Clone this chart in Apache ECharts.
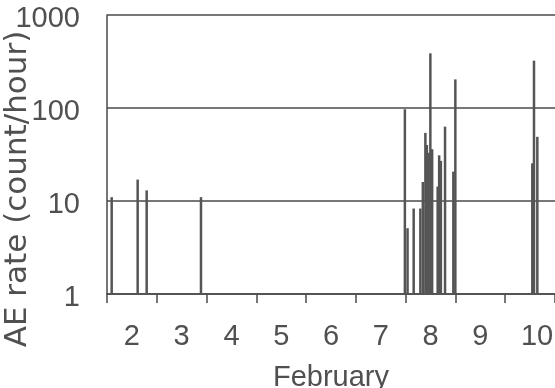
<!DOCTYPE html>
<html>
<head>
<meta charset="utf-8">
<script src="https://cdn.jsdelivr.net/npm/echarts@6/dist/echarts.min.js"></script>
<style>html,body{margin:0;padding:0;background:#fff;}#c{width:555px;height:388px;}</style>
</head>
<body>
<div id="c"></div>
<script>
// Day labels (February) shown centered within each day
var dayLabels = ['2', '3', '4', '5', '6', '7', '8', '9', '10'];
// Event times (day of February, fractional) and AE rates (count/hour)
var eventDays = [2.094, 2.616, 2.797, 3.888,
  7.984, 8.038, 8.161, 8.295, 8.345, 8.396, 8.426, 8.460, 8.496, 8.532,
  8.643, 8.673, 8.707, 8.791, 8.958, 8.998,
  10.544, 10.578, 10.645];
var aeRates = [11, 17, 13, 11,
  97, 5.1, 8.3, 8.3, 16, 54, 40, 33, 387, 36,
  14.3, 31, 27, 63, 20.7, 203,
  25.4, 323, 49];
var yTicks = [1, 10, 100, 1000];

var data = eventDays.map(function (d, i) { return [d, aeRates[i]]; });
var axisColor = '#4a4a4a';
var textColor = '#505050';
var font = 'Liberation Sans';

var chart = echarts.init(document.getElementById('c'), null, {renderer: 'canvas'});
chart.setOption({
  animation: false,
  backgroundColor: '#fff',
  grid: {left: 107, right: 0, top: 15, bottom: 94, containLabel: false, outerBoundsMode: 'none'},
  xAxis: [{
    type: 'value', min: 2, max: 11, interval: 1,
    axisLine: {show: true, lineStyle: {color: axisColor, width: 1.5}},
    axisTick: {show: true, length: 9, lineStyle: {color: axisColor, width: 1.5}},
    axisLabel: {show: false},
    splitLine: {show: false},
    name: 'February', nameLocation: 'middle', nameGap: 69,
    nameTextStyle: {fontFamily: font, fontSize: 29, color: textColor}
  }, {
    type: 'category', data: dayLabels, boundaryGap: true, position: 'bottom',
    axisLine: {show: false}, axisTick: {show: false}, splitLine: {show: false},
    axisLabel: {
      interval: 0, margin: 28, fontFamily: font, fontSize: 29, color: textColor,
      formatter: function (v) { return v === '10' ? '{r|' + v + '}' : v; },
      rich: {r: {fontFamily: font, fontSize: 29, color: textColor, padding: [0, 0, 0, 14]}}
    }
  }],
  yAxis: {
    type: 'log', logBase: 10, min: 1, max: 1000,
    axisLine: {show: true, lineStyle: {color: axisColor, width: 1.5}},
    axisTick: {show: false},
    axisLabel: {
      margin: 27, color: textColor,
      formatter: function (v) {
        var r = Math.round(v);
        return yTicks.indexOf(r) >= 0 ? '{s| }\n{a|' + r + '}' : '';
      },
      rich: {
        s: {fontSize: 8, lineHeight: 8},
        a: {fontFamily: font, fontSize: 29, lineHeight: 30, color: textColor}
      }
    },
    splitLine: {show: true, lineStyle: {color: axisColor, width: 1.5}}
  },
  graphic: [{
    type: 'text', x: 18, y: 189, rotation: Math.PI / 2,
    style: {text: 'AE rate (count/hour)', fontFamily: 'DejaVu Sans', fontSize: 31, fill: textColor,
      align: 'center', verticalAlign: 'middle'}
  }],
  series: [{
    type: 'bar', xAxisIndex: 0, data: data, barWidth: 2.5,
    itemStyle: {color: '#555'}
  }]
});
</script>
</body>
</html>
